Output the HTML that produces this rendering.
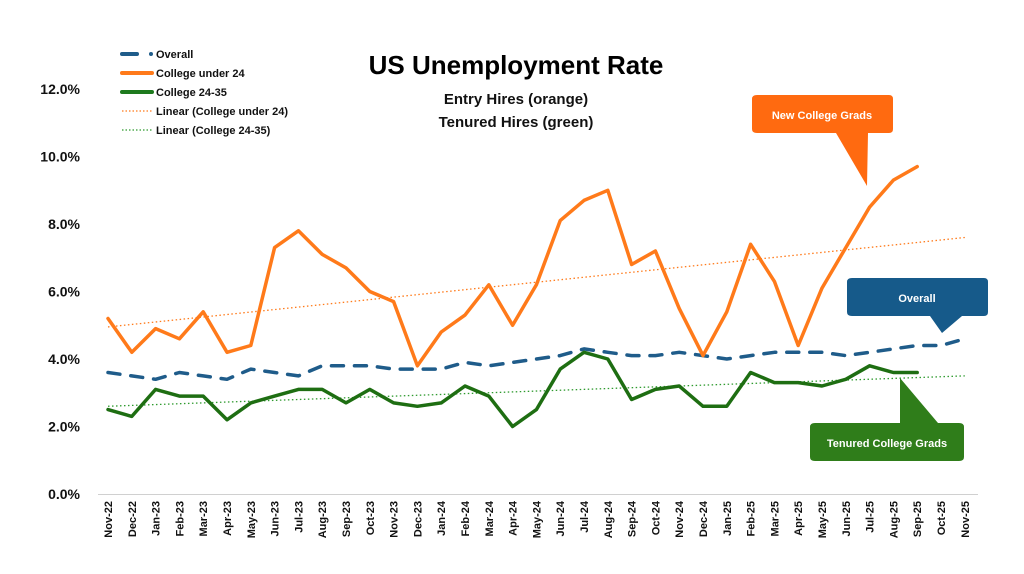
<!DOCTYPE html>
<html><head><meta charset="utf-8"><style>
html,body{margin:0;padding:0;background:#fff;}
svg{display:block;font-family:"Liberation Sans",sans-serif;}
</style></head><body>
<svg id="s" width="1024" height="574" viewBox="0 0 1024 574" xmlns="http://www.w3.org/2000/svg">
<rect width="1024" height="574" fill="#fff"/>
<text x="516" y="74" text-anchor="middle" font-size="26" font-weight="bold" fill="#000">US Unemployment Rate</text>
<text x="516" y="104" text-anchor="middle" font-size="15" font-weight="bold" fill="#111">Entry Hires (orange)</text>
<text x="516" y="127" text-anchor="middle" font-size="15" font-weight="bold" fill="#111">Tenured Hires (green)</text>
<g font-size="11" font-weight="bold" fill="#111">
<line x1="122" y1="54" x2="137" y2="54" stroke="#1f5c8a" stroke-width="4" stroke-linecap="round"/><circle cx="151" cy="54" r="2" fill="#1f5c8a"/>
<text x="156" y="58">Overall</text>
<line x1="122" y1="73" x2="152" y2="73" stroke="#ff7a1a" stroke-width="4" stroke-linecap="round"/><text x="156" y="77">College under 24</text>
<line x1="122" y1="92" x2="152" y2="92" stroke="#1e7a1e" stroke-width="4" stroke-linecap="round"/><text x="156" y="96">College 24-35</text>
<line x1="122" y1="111" x2="152" y2="111" stroke="#ff7a1a" stroke-width="1.2" stroke-dasharray="1.5 2"/><text x="156" y="115">Linear (College under 24)</text>
<line x1="122" y1="130" x2="152" y2="130" stroke="#2e9a2e" stroke-width="1.2" stroke-dasharray="1.5 2"/><text x="156" y="134">Linear (College 24-35)</text>
</g>
<g id="ax" font-size="14" font-weight="bold" fill="#111" text-anchor="end"></g>
<g id="series"></g>
<g font-size="11" font-weight="bold" fill="#fff" text-anchor="middle">
<path d="M757,95 H889 Q893,95 893,99 V129 Q893,133 889,133 H868 L867,186 L836,133 H757 Q752,133 752,129 V99 Q752,95 757,95 Z" fill="#ff6a10"/>
<text x="822" y="119">New College Grads</text>
<path d="M852,278 H984 Q988,278 988,282 V312 Q988,316 984,316 H962 L942,333 L930,316 H852 Q847,316 847,312 V282 Q847,278 852,278 Z" fill="#165a8a"/>
<text x="917" y="302">Overall</text>
<path d="M815,423 H959 Q964,423 964,427 V457 Q964,461 959,461 H815 Q810,461 810,457 V427 Q810,423 815,423 H900 L900,378 L938,423 Z" fill="#2f7d1a"/>
<text x="887" y="447">Tenured College Grads</text>
</g>
</svg>
<script>
var X=function(i){return 108+i*23.8},Y=function(v){return 494-v*33.75};
var NS="http://www.w3.org/2000/svg";
function el(p,t,a,txt){var e=document.createElementNS(NS,t);for(var k in a)e.setAttribute(k,a[k]);if(txt)e.textContent=txt;p.appendChild(e);return e;}
var ax=document.getElementById('ax'),se=document.getElementById('series');
for(var v=0;v<=12;v+=2){el(ax,'text',{x:80,y:Y(v)+5},v.toFixed(1)+'%');}
el(se,'line',{x1:98,y1:494.5,x2:978,y2:494.5,stroke:'#d0d0d0','stroke-width':1});
var m=['Jan','Feb','Mar','Apr','May','Jun','Jul','Aug','Sep','Oct','Nov','Dec'];
for(var i=0;i<37;i++){var mi=(10+i)%12,yr=22+Math.floor((10+i)/12);
var t=el(ax,'text',{x:0,y:0,'font-size':11,transform:'translate('+(X(i)+4)+',501) rotate(-90)'},m[mi]+'-'+yr);}
function pl(d,a){var p=d.map(function(v,i){return X(i).toFixed(1)+','+Y(v).toFixed(1)}).join(' ');a.points=p;a.fill='none';el(se,'polyline',a);}
var O=[5.2,4.2,4.9,4.6,5.4,4.2,4.4,7.3,7.8,7.1,6.7,6.0,5.7,3.8,4.8,5.3,6.2,5.0,6.2,8.1,8.7,9.0,6.8,7.2,5.5,4.1,5.4,7.4,6.3,4.4,6.1,7.3,8.5,9.3,9.7];
var G=[2.5,2.3,3.1,2.9,2.9,2.2,2.7,2.9,3.1,3.1,2.7,3.1,2.7,2.6,2.7,3.2,2.9,2.0,2.5,3.7,4.2,4.0,2.8,3.1,3.2,2.6,2.6,3.6,3.3,3.3,3.2,3.4,3.8,3.6,3.6];
var B=[3.6,3.5,3.4,3.6,3.5,3.4,3.7,3.6,3.5,3.8,3.8,3.8,3.7,3.7,3.7,3.9,3.8,3.9,4.0,4.1,4.3,4.2,4.1,4.1,4.2,4.1,4.0,4.1,4.2,4.2,4.2,4.1,4.2,4.3,4.4,4.4,4.6];
el(se,'line',{x1:X(0),y1:Y(4.95),x2:X(36),y2:Y(7.6),stroke:'#ff7a1a','stroke-width':1.3,'stroke-dasharray':'1.5 2.5'});
el(se,'line',{x1:X(0),y1:Y(2.6),x2:X(36),y2:Y(3.5),stroke:'#2e9a2e','stroke-width':1.3,'stroke-dasharray':'1.5 2.5'});
pl(B,{stroke:'#1f5c8a','stroke-width':3.5,'stroke-dasharray':'12 11','stroke-linecap':'round','stroke-linejoin':'round'});
pl(G,{stroke:'#1e6e12','stroke-width':3.5,'stroke-linecap':'round','stroke-linejoin':'round'});
pl(O,{stroke:'#ff7a1a','stroke-width':3.5,'stroke-linecap':'round','stroke-linejoin':'round'});
</script>
</body></html>
